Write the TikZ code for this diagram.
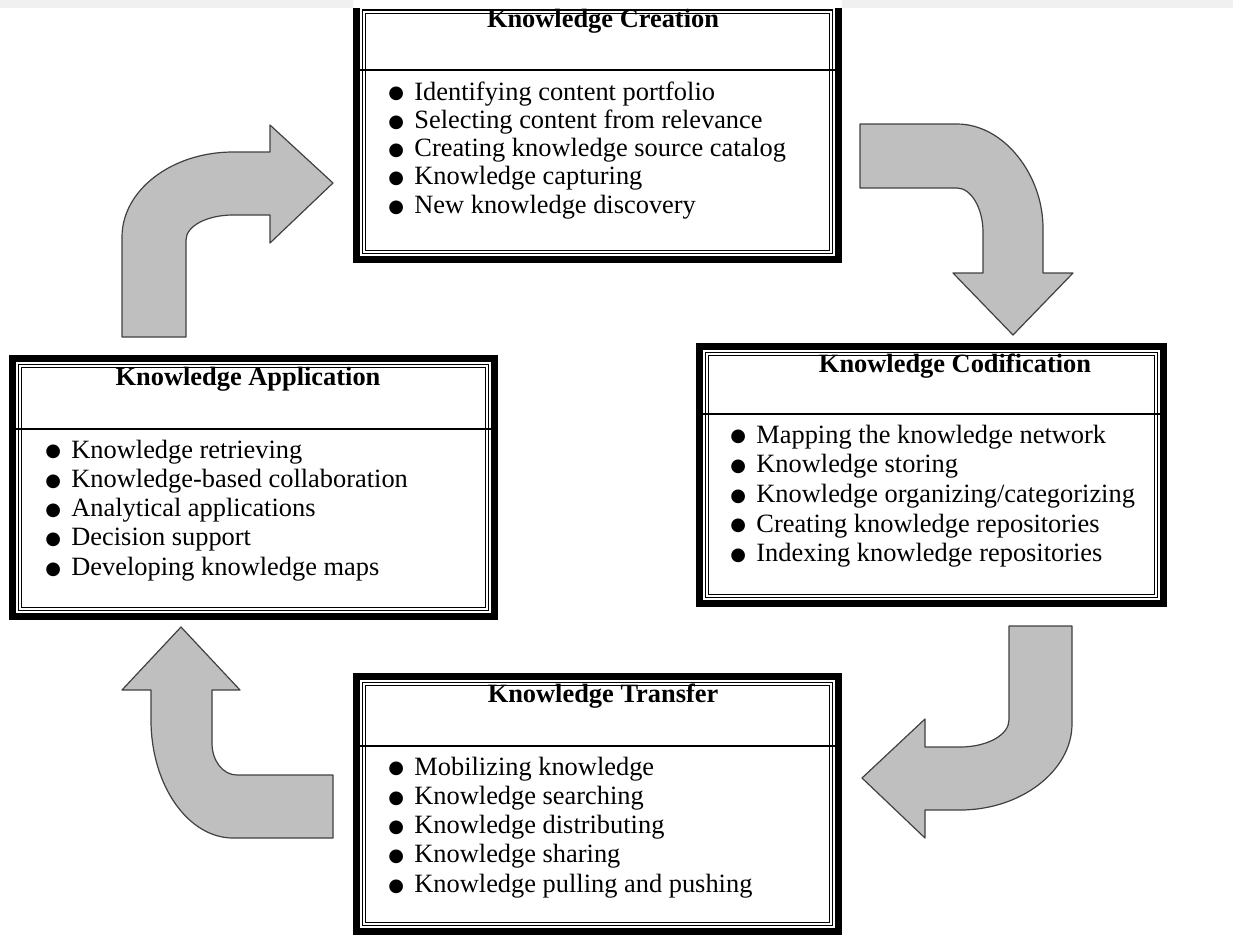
\documentclass[tikz,border=0pt]{standalone}
\usepackage{fontspec}
\setmainfont{Liberation Serif}
\newfontfamily\bulletfont{DejaVu Sans}
\newcommand{\kbullet}{\makebox[13pt][l]{\raisebox{0.6pt}{\bulletfont\fontsize{9}{9}\selectfont ●}}}

\begin{document}
\begin{tikzpicture}
[x=0.5pt,y=-0.5pt,
  thickframe/.style={line width=3.6pt},%
  thinframe/.style={line width=0.7pt},%
  blockarrow/.style={fill=black!25,draw=black!75,line width=0.6pt,line join=round},%
  titletext/.style={font=\bfseries\fontsize{13.2}{15}\selectfont,inner sep=0pt,anchor=base},%
  itemtext/.style={font=\fontsize{13.2}{15}\selectfont,inner sep=0pt,anchor=base west}]
\useasboundingbox (0,0) rectangle (1233,934);
\clip (0,0) rectangle (1233,934);
%% top band
\fill[black!6] (0,0) rectangle (353,8) (842,0) rectangle (1233,8);
%% boxes
\begin{scope}
\clip (0,8) rectangle (1233,934);
\foreach \boxname/\xa/\ya/\xb/\yb/\yd in {
  create/353/0.5/842/263/70, apply/9/355/498/620/429,
  codify/696/343/1167/607/414, transfer/353/673/842/935/746}
{
  \coordinate (\boxname-nw) at (\xa,\ya);
  \coordinate (\boxname-se) at (\xb,\yb);
  \draw[thickframe] (\xa+3.6,\ya+3.6) rectangle (\xb-3.6,\yb-3.6);
  \draw[thinframe] (\xa+9.5,\ya+9.5) rectangle (\xb-9.5,\yb-9.5);
  \draw[thinframe,line width=0.5pt] (\xa+12.5,\ya+12.5) rectangle (\xb-12.5,\yb-12.5);
  \draw[thinframe,line width=0.9pt] (\xa+7,\yd) -- (\xb-7,\yd);
}
\end{scope}
%% titles
\foreach \boxname/\x/\y/\title in {
  create/603/27/Knowledge Creation, apply/248/385/Knowledge Application,
  codify/955/372/Knowledge Codification, transfer/603/702/Knowledge Transfer}
{
  \node[titletext] (\boxname-title) at (\x,\y) {\title};
}
%% items
\foreach \txt [count=\i] in {Identifying content portfolio,
  Selecting content from relevance, Creating knowledge source catalog,
  Knowledge capturing, New knowledge discovery}
  \node[itemtext] (create-\i) at (388,{100+(\i-1)*28.3}) {\kbullet\txt};
\foreach \txt [count=\i] in {Knowledge retrieving,
  Knowledge-based collaboration, Analytical applications,
  Decision support, Developing knowledge maps}
  \node[itemtext] (apply-\i) at (45,{458+(\i-1)*29.3}) {\kbullet\txt};
\foreach \txt [count=\i] in {Mapping the knowledge network,
  Knowledge storing, {Knowledge organizing/categorizing},
  Creating knowledge repositories, Indexing knowledge repositories}
  \node[itemtext] (codify-\i) at (730,{443+(\i-1)*29.7}) {\kbullet\txt};
\foreach \txt [count=\i] in {Mobilizing knowledge,
  Knowledge searching, Knowledge distributing,
  Knowledge sharing, Knowledge pulling and pushing}
  \node[itemtext] (transfer-\i) at (388,{775+(\i-1)*29.3}) {\kbullet\txt};
%% block arrows
\draw[blockarrow] (122,337) -- (122,237) .. controls (122,190) and (172,152) .. (233,152)
  -- (270,152) -- (270,125) -- (333,183) -- (270,243) -- (270,215) -- (233,215)
  .. controls (207,215) and (186,226) .. (186,240) -- (186,337) -- cycle;
\draw[blockarrow] (860,124) -- (957,124) .. controls (1004,124) and (1043,175) .. (1043,228)
  -- (1043,273) -- (1073,273) -- (1013,335) -- (953,273) -- (983,273) -- (983,232)
  .. controls (983,208) and (971,188) .. (957,188) -- (860,188) -- cycle;
\draw[blockarrow] (1009,626) -- (1072,626) -- (1072,724) .. controls (1072,770) and (1022,810) .. (960,810)
  -- (925,810) -- (925,838) -- (862,778) -- (925,719) -- (925,747) -- (960,747)
  .. controls (987,747) and (1009,735) .. (1009,720) -- cycle;
\draw[blockarrow] (333,775) -- (333,838) -- (233,838) .. controls (188,838) and (151,785) .. (151,720)
  -- (151,690) -- (122,690) -- (181,627) -- (240,690) -- (212,690) -- (212,743)
  .. controls (212,761) and (223,775) .. (237,775) -- cycle;
\end{tikzpicture}
\end{document}
